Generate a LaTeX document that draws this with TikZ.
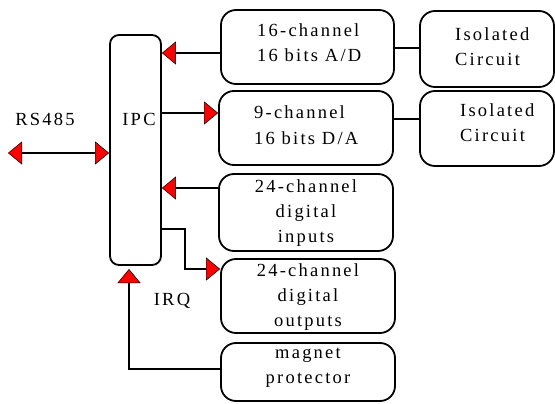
\documentclass[tikz,border=0pt]{standalone}
\usepackage{fontspec}
\setmainfont{Liberation Serif}[LetterSpace=12]
\usetikzlibrary{arrows.meta}
\tikzset{
  box/.style={draw, line width=1.8pt, rounded corners=15pt, inner sep=0pt},
  txt/.style={inner sep=0pt, font=\fontsize{18.5}{25}\selectfont},
  wire/.style={line width=1.8pt},
  redarrow/.style={wire, -{Triangle[length=14pt,width=23pt,fill=red,line width=0.5pt]}},
  redboth/.style={wire, {Triangle[length=14pt,width=23pt,fill=red,line width=0.5pt]}-{Triangle[length=14pt,width=23pt,fill=red,line width=0.5pt]}}
}
\begin{document}
\begin{tikzpicture}[x=1pt,y=-1pt]
\useasboundingbox (0,0) rectangle (555,404);
% boxes
\node[box, rounded corners=9pt, minimum width=51pt, minimum height=230pt] (ipc) at (135.5,150) {};
\node[box, minimum width=173pt, minimum height=74pt] (ad) at (307.5,47) {};
\node[box, minimum width=134pt, minimum height=76pt] (iso1) at (487,49) {};
\node[box, minimum width=174pt, minimum height=74pt] (da) at (306,128) {};
\node[box, minimum width=134pt, minimum height=75pt] (iso2) at (487,128.5) {};
\node[box, minimum width=174pt, minimum height=77pt] (din) at (306,212.5) {};
\node[box, minimum width=174pt, minimum height=74pt] (dout) at (308,296) {};
\node[box, minimum width=174pt, minimum height=58pt] (mag) at (308,372) {};
% texts (anchor base = baseline of the last line)
\node[txt, anchor=base] (ipct) at (139,125) {IPC};
\node[txt, anchor=base] (rst) at (45,125) {RS485};
\node[txt, anchor=base] (irqt) at (172,305) {IRQ};
\node[txt, anchor=base west, align=left] (adt) at (257,62) {16-channel\\16 bits A/D};
\node[txt, anchor=base west, align=left] (dat) at (254,144) {9-channel\\16 bits D/A};
\node[txt, anchor=base west, align=left] (iso1t) at (455,66) {Isolated\\Circuit};
\node[txt, anchor=base west, align=left] (iso2t) at (460,142) {Isolated\\Circuit};
\node[txt, anchor=base, align=center] (dint) at (306,242) {24-channel\\digital\\inputs};
\node[txt, anchor=base, align=center] (doutt) at (308,326) {24-channel\\digital\\outputs};
\node[txt, anchor=base, align=center] (magt) at (308,383) {magnet\\protector};
% connectors
\coordinate (rsl) at (8,153);
\draw[redboth] (rsl) -- (ipc.west |- rsl);
\draw[redarrow] (ad.west |- 0,53) -- (ipc.east |- 0,53);
\draw[redarrow] (ipc.east |- 0,113) -- (da.west |- 0,113);
\draw[redarrow] (din.west |- 0,188) -- (ipc.east |- 0,188);
\draw[redarrow] (ipc.east |- 0,229) -| (185,269) -- (dout.west |- 0,269);
\draw[redarrow] (mag.west |- 0,369) -| (129,269);
\draw[wire] (ad.east |- 0,48) -- (iso1.west |- 0,48);
\draw[wire] (da.east |- 0,119) -- (iso2.west |- 0,119);
\end{tikzpicture}
\end{document}
